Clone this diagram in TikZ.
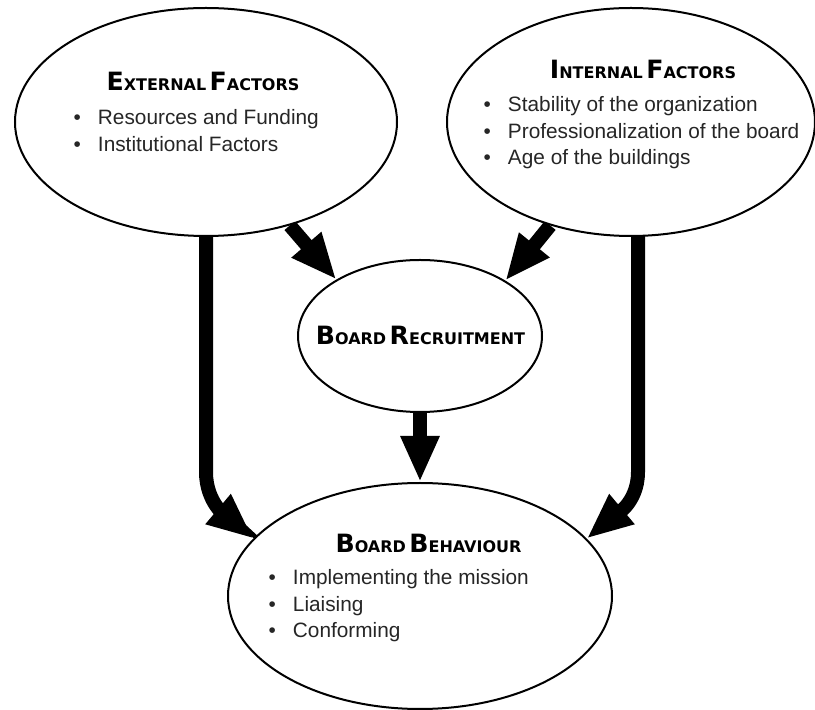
\documentclass[tikz,border=0pt]{standalone}
\usepackage{fontspec}
\setmainfont{Liberation Sans}
\newfontfamily\headfont{DejaVu Sans}
\usetikzlibrary{arrows.meta,shapes.geometric,backgrounds}
\newcommand\BL[1]{{\fontsize{25.2pt}{28pt}\selectfont #1}}
\newcommand\SL[1]{{\fontsize{16pt}{28pt}\selectfont #1}}
\tikzset{
  oval/.style={ellipse, draw, line width=2pt, fill=white, inner sep=0pt},
  headtxt/.style={anchor=base, inner sep=0pt, font=\headfont\bfseries},
  blist/.style={anchor=base west, inner sep=0pt, font=\fontsize{20.8pt}{26.5pt}\selectfont, text=black!85},
  fat/.style={line width=14pt, -{Triangle[length=46pt,width=36pt]}},
}
\begin{document}
\begin{tikzpicture}[x=1pt,y=1pt]
\useasboundingbox (0,0) rectangle (815,710);
% ovals
\node[oval, minimum width=382pt, minimum height=228pt] (ext) at (206,588) {};
\node[oval, minimum width=368pt, minimum height=228pt] (int) at (631,588) {};
\node[oval, minimum width=244pt, minimum height=152pt] (rec) at (420,374) {};
\node[oval, minimum width=384pt, minimum height=226pt] (beh) at (420,114) {};
% texts
\node[headtxt] (extT) at (203,619) {\BL{E}\SL{XTERNAL} \BL{F}\SL{ACTORS}};
\node[blist] (extL) at (73.5,585) {\begin{tabular}[t]{@{}l@{\hspace{17pt}}l@{}}
\textbullet & Resources and Funding\\
\textbullet & Institutional Factors
\end{tabular}};
\node[headtxt] (intT) at (643,631) {\BL{I}\SL{NTERNAL} \BL{F}\SL{ACTORS}};
\node[blist] (intL) at (483.5,598) {\begin{tabular}[t]{@{}l@{\hspace{17pt}}l@{}}
\textbullet & Stability of the organization\\
\textbullet & Professionalization of the board\\
\textbullet & Age of the buildings
\end{tabular}};
\node[headtxt] (recT) at (420.5,365) {\BL{B}\SL{OARD} \BL{R}\SL{ECRUITMENT}};
\node[headtxt] (behT) at (428.5,157) {\BL{B}\SL{OARD} \BL{B}\SL{EHAVIOUR}};
\node[blist] (behL) at (268.5,125) {\begin{tabular}[t]{@{}l@{\hspace{17pt}}l@{}}
\textbullet & Implementing the mission\\
\textbullet & Liaising\\
\textbullet & Conforming
\end{tabular}};
% connector helper points
\coordinate (lbend) at (206,238);
\coordinate (rtop) at (638,480);
\coordinate (rbend) at (638,238);
\begin{scope}[on background layer]
\draw[fat] (ext.south) -- (lbend) to[out=-90,in=140] (beh.161);
\draw[fat] (rtop) -- (rbend) to[out=-90,in=40] (beh.19);
\draw[fat] (ext.-51) -- (rec.146);
\draw[fat] (int.-128) -- (rec.33);
\draw[fat] (rec.south) -- (beh.north);
\end{scope}
\end{tikzpicture}
\end{document}
